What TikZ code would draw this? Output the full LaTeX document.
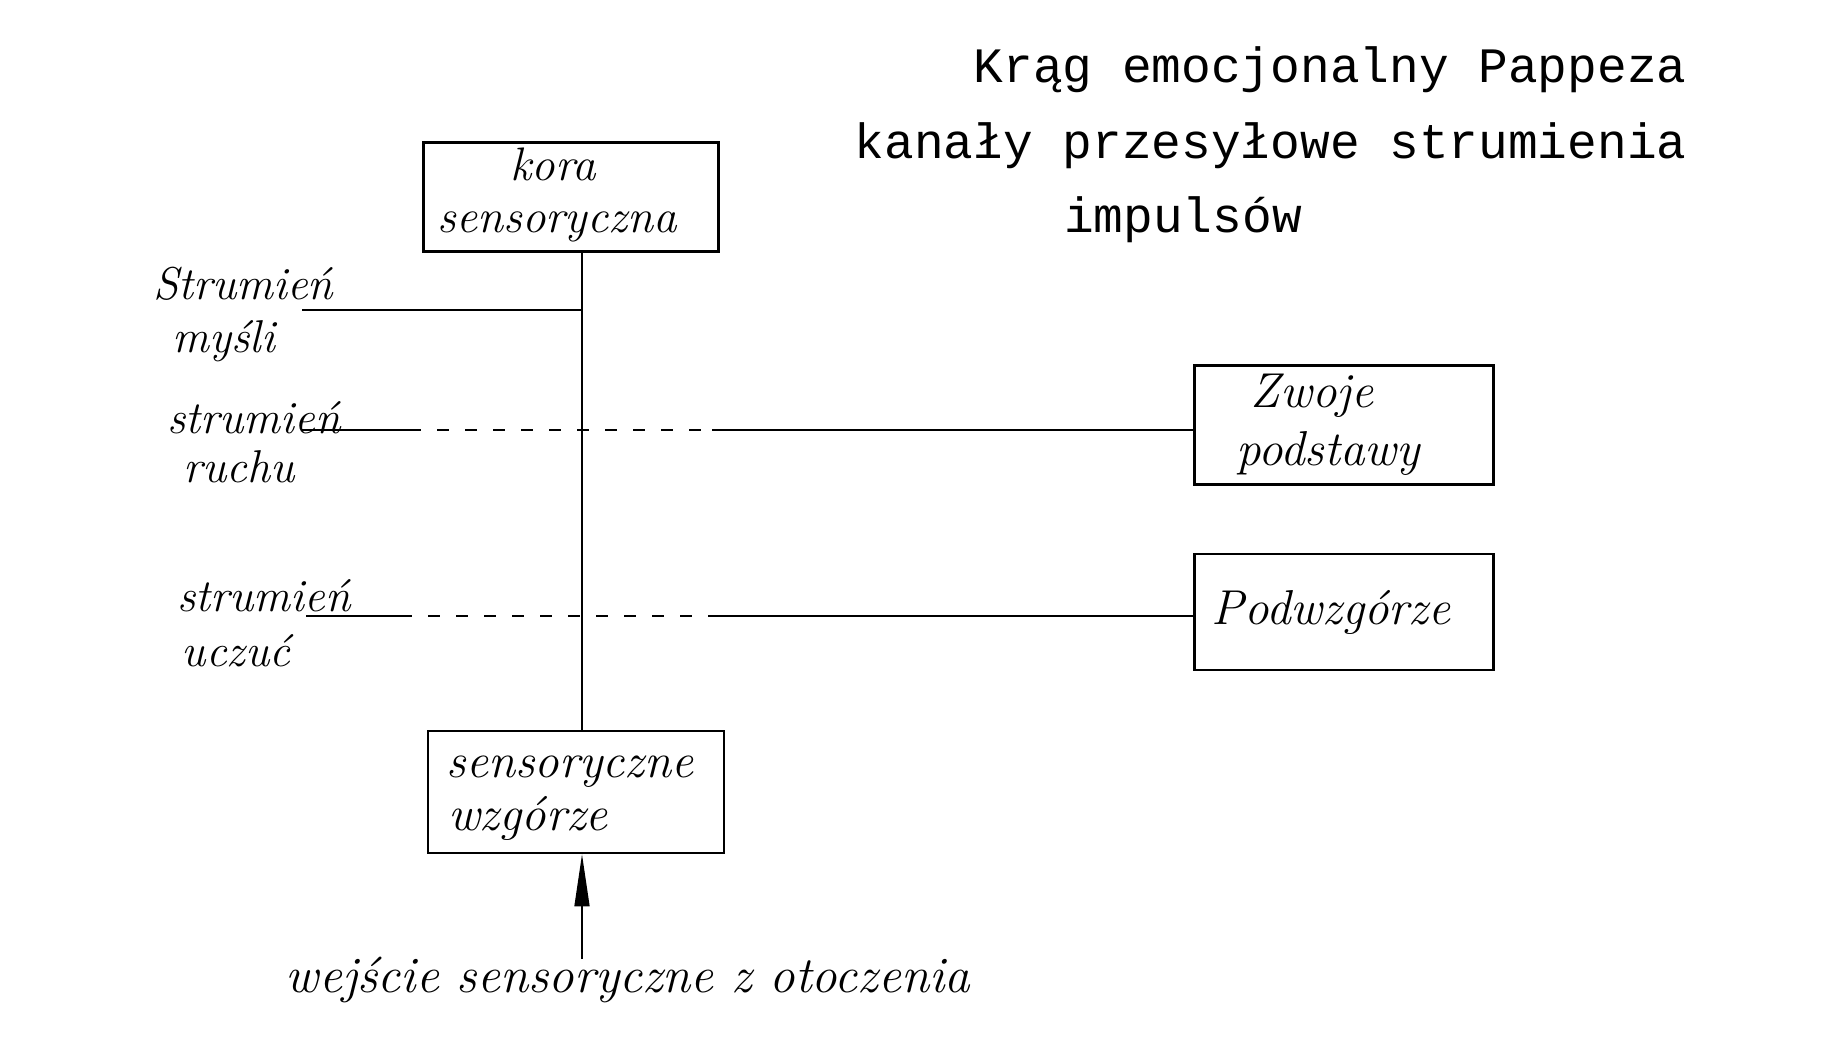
\documentclass[tikz,border=0pt]{standalone}
\usepackage{fontspec}
\newfontfamily\typewriter{Liberation Mono}
\usetikzlibrary{arrows.meta,calc}
\tikzset{
  hand/.style={font=\fontsize{24.5}{28}\selectfont\itshape, inner sep=0pt},
  sidelabel/.style={font=\fontsize{23}{28}\selectfont\itshape, inner sep=0pt},
  typed/.style={font=\typewriter\fontsize{24.75}{30}\selectfont, inner sep=0pt},
  frame/.style={draw, line width=1.3pt},
  conn/.style={line width=0.75pt},
  dashpart/.style={line width=0.75pt, dash pattern=on 6pt off 8pt},
}
\begin{document}
\begin{tikzpicture}[x=0.5pt, y=-0.5pt]
\useasboundingbox (0,0) rectangle (1833,1056);
% title
\node[typed, anchor=east] (t1) at (1687,70) {Krąg emocjonalny Pappeza};
\node[typed, anchor=east] (t2) at (1687,146) {kanały przesyłowe strumienia};
\node[typed] (t3) at (1183,220) {impulsów};
% boxes
\node[frame, minimum width=147.5pt, minimum height=54.5pt] (kora) at (571,197) {};
\node[frame, minimum width=149.5pt, minimum height=59.5pt] (zwoje) at (1344,425) {};
\node[frame, minimum width=149.5pt, minimum height=58pt] (podw) at (1344,612) {};
\node[frame, minimum width=148pt, minimum height=61pt] (sens) at (576,792) {};
% box texts
\node[hand, font=\fontsize{23.5}{28}\selectfont\itshape] (kora1) at (553,164) {kora};
\node[hand, font=\fontsize{23.5}{28}\selectfont\itshape] (kora2) at (557,227) {sensoryczna};
\node[hand] (zw1) at (1312,396) {Zwoje};
\node[hand] (zw2) at (1328,453) {podstawy};
\node[hand] (pw1) at (1331,612) {Podwzgórze};
\node[hand] (se1) at (570,772) {sensoryczne};
\node[hand] (se2) at (528,818) {wzgórze};
% side labels
\node[sidelabel] (l1) at (243,284) {Strumień};
\node[sidelabel] (l2) at (224,341) {myśli};
\node[sidelabel] (l3) at (254,418) {strumień};
\node[sidelabel] (l4) at (239,467) {ruchu};
\node[sidelabel] (l5) at (264,596) {strumień};
\node[sidelabel] (l6) at (236,651) {uczuć};
\node[font=\fontsize{25.5}{30}\selectfont\itshape, inner sep=0pt] (bottom) at (628,980) {wejście sensoryczne z otoczenia};
% vertical trunk
\draw[conn] (kora.south -| 582,0) -- (sens.north -| 582,0);
% myśli line
\coordinate (m0) at (302,310);
\coordinate (m1) at (582,310);
\draw[conn] (m0) -- (m1);
% ruchu line
\coordinate (r0) at (302,430);
\coordinate (r1) at (409,430);
\coordinate (r2) at (712,430);
\draw[conn] (r0) -- (r1);
\draw[dashpart] (r1) -- (r2);
\draw[conn] (r2) -- (zwoje.west |- r2);
% uczuć line
\coordinate (u0) at (306,616);
\coordinate (u1) at (400,616);
\coordinate (u2) at (712,616);
\draw[conn] (u0) -- (u1);
\draw[dashpart] (u1) -- (u2);
\draw[conn] (u2) -- (podw.west |- u2);
% input arrow
\coordinate (in) at (582,959);
\draw[conn, -{Triangle[length=26pt, width=7.5pt]}] (in) -- (sens.south -| in);
\end{tikzpicture}
\end{document}
